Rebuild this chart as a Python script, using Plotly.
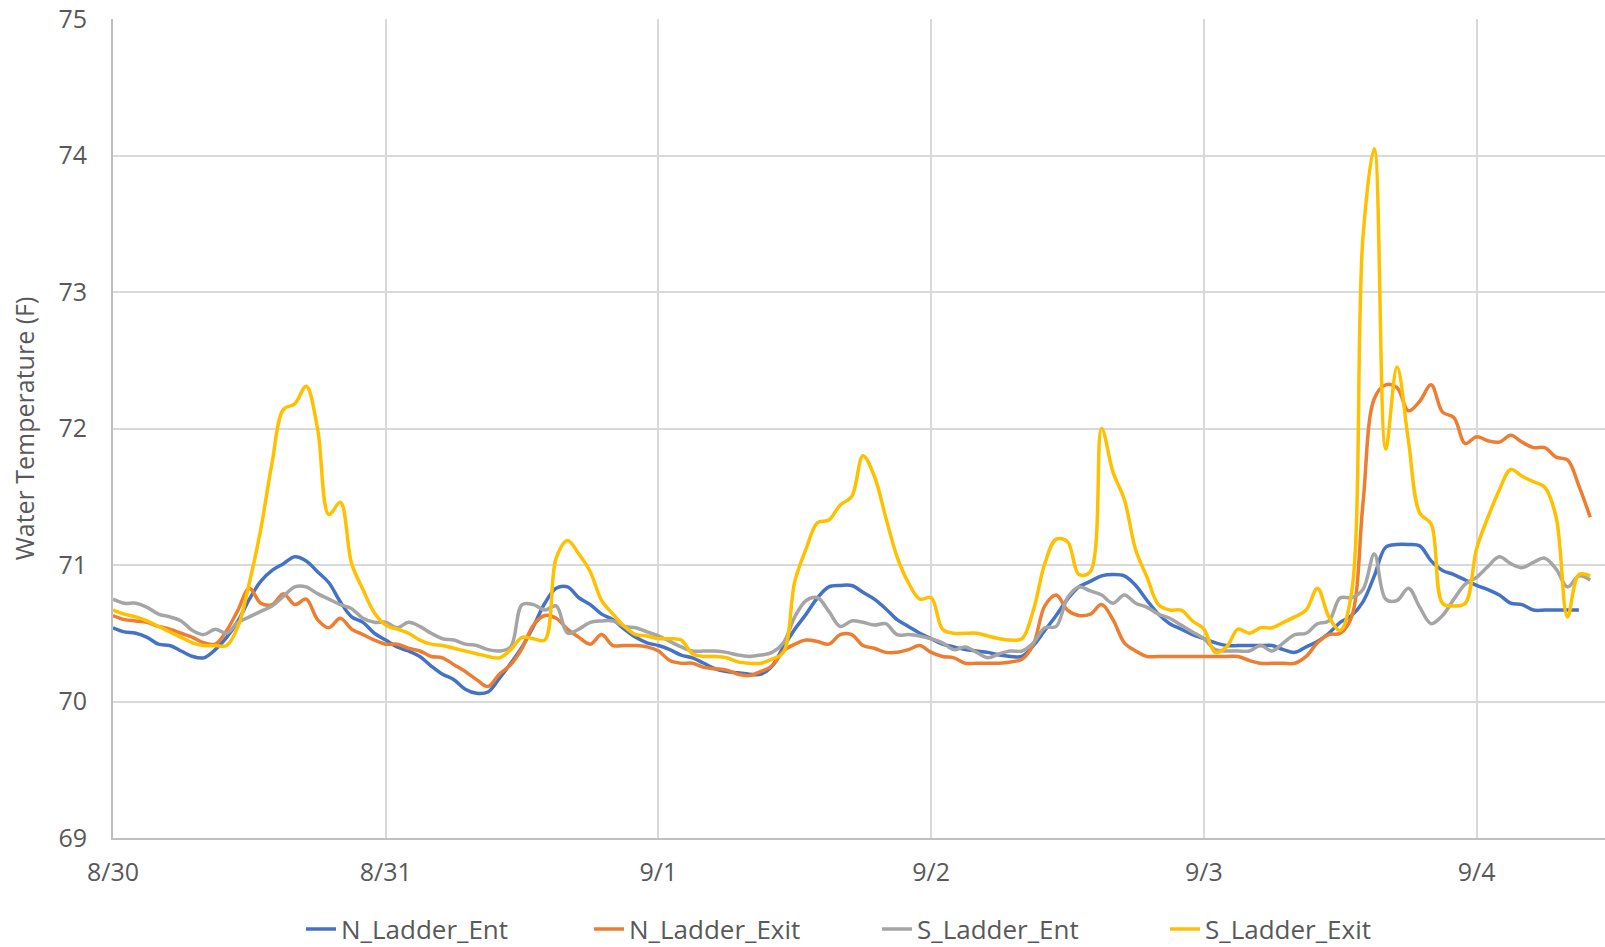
import plotly.graph_objects as go

# hourly readings starting 8/30 00:00
hours = list(range(131))
day_ticks = [0, 24, 48, 72, 96, 120]
day_labels = ["8/30", "8/31", "9/1", "9/2", "9/3", "9/4"]

n_ladder_ent = [
    70.54, 70.51, 70.50, 70.47, 70.42, 70.41, 70.37, 70.33, 70.32, 70.38, 70.47, 70.59,
    70.75, 70.88, 70.96, 71.01, 71.06, 71.03, 70.95, 70.87, 70.73, 70.62, 70.58, 70.50,
    70.45, 70.40, 70.37, 70.33, 70.26, 70.20, 70.16, 70.09, 70.06, 70.07, 70.17, 70.28,
    70.40, 70.55, 70.72, 70.83, 70.84, 70.76, 70.71, 70.64, 70.60, 70.53, 70.47, 70.43,
    70.41, 70.38, 70.34, 70.32, 70.28, 70.24, 70.22, 70.21, 70.20, 70.20, 70.26, 70.40,
    70.53, 70.64, 70.76, 70.84, 70.85, 70.85, 70.80, 70.75, 70.68, 70.60, 70.55, 70.50,
    70.46, 70.42, 70.40, 70.38, 70.37, 70.36, 70.34, 70.33, 70.33, 70.41, 70.52, 70.63,
    70.75, 70.84, 70.88, 70.92, 70.93, 70.92, 70.85, 70.74, 70.64, 70.57, 70.53, 70.49,
    70.46, 70.43, 70.41, 70.41, 70.41, 70.41, 70.41, 70.38, 70.36, 70.40, 70.44, 70.50,
    70.58, 70.63, 70.73, 70.92, 71.13, 71.15, 71.15, 71.14, 71.03, 70.96, 70.93, 70.89,
    70.85, 70.82, 70.78, 70.72, 70.71, 70.67, 70.67, 70.67, 70.67, 70.67,
]

n_ladder_exit = [
    70.63, 70.60, 70.59, 70.58, 70.55, 70.53, 70.50, 70.47, 70.43, 70.42, 70.52, 70.67,
    70.83, 70.72, 70.71, 70.79, 70.71, 70.75, 70.60, 70.54, 70.61, 70.53, 70.49, 70.45,
    70.42, 70.42, 70.39, 70.37, 70.33, 70.32, 70.27, 70.22, 70.16, 70.11, 70.20, 70.27,
    70.39, 70.56, 70.63, 70.61, 70.53, 70.47, 70.42, 70.49, 70.41, 70.41, 70.41, 70.40,
    70.37, 70.30, 70.28, 70.28, 70.25, 70.24, 70.23, 70.20, 70.19, 70.22, 70.26, 70.37,
    70.42, 70.45, 70.44, 70.42, 70.49, 70.49, 70.41, 70.39, 70.36, 70.36, 70.38, 70.41,
    70.36, 70.33, 70.32, 70.28, 70.28, 70.28, 70.28, 70.29, 70.31, 70.42, 70.70, 70.78,
    70.67, 70.63, 70.64, 70.71, 70.60, 70.43, 70.37, 70.33, 70.33, 70.33, 70.33, 70.33,
    70.33, 70.33, 70.33, 70.33, 70.30, 70.28, 70.28, 70.28, 70.28, 70.33, 70.43, 70.49,
    70.50, 70.62, 71.45, 72.22, 72.32, 72.30, 72.13, 72.20, 72.32, 72.12, 72.08, 71.89,
    71.94, 71.91, 71.90, 71.95, 71.90, 71.86, 71.86, 71.79, 71.77, 71.58, 71.35,
]

s_ladder_ent = [
    70.75, 70.72, 70.72, 70.69, 70.64, 70.62, 70.59, 70.52, 70.49, 70.53, 70.50, 70.58,
    70.62, 70.66, 70.70, 70.77, 70.84, 70.84, 70.79, 70.75, 70.71, 70.68, 70.61, 70.58,
    70.58, 70.54, 70.58, 70.55, 70.50, 70.46, 70.45, 70.42, 70.41, 70.38, 70.37, 70.40,
    70.71, 70.71, 70.67, 70.70, 70.50, 70.53, 70.58, 70.59, 70.59, 70.55, 70.54, 70.51,
    70.48, 70.44, 70.40, 70.37, 70.37, 70.37, 70.36, 70.34, 70.33, 70.34, 70.36, 70.43,
    70.62, 70.74, 70.76, 70.66, 70.55, 70.59, 70.58, 70.56, 70.57, 70.49, 70.49, 70.48,
    70.46, 70.43, 70.38, 70.40, 70.36, 70.32, 70.35, 70.37, 70.37, 70.43, 70.54, 70.55,
    70.76, 70.84, 70.81, 70.78, 70.72, 70.78, 70.72, 70.69, 70.64, 70.61, 70.56, 70.51,
    70.46, 70.38, 70.37, 70.37, 70.37, 70.41, 70.37, 70.43, 70.49, 70.50, 70.57, 70.59,
    70.76, 70.76, 70.82, 71.08, 70.75, 70.74, 70.83, 70.69, 70.57, 70.63, 70.75, 70.86,
    70.91, 70.99, 71.06, 71.01, 70.98, 71.02, 71.05, 70.97, 70.84, 70.92, 70.89,
]

s_ladder_exit = [
    70.67, 70.64, 70.62, 70.59, 70.55, 70.51, 70.47, 70.43, 70.41, 70.41, 70.41, 70.55,
    70.87, 71.26, 71.75, 72.14, 72.18, 72.31, 72.00, 71.37, 71.46, 71.01, 70.82, 70.65,
    70.56, 70.53, 70.50, 70.45, 70.42, 70.41, 70.39, 70.37, 70.35, 70.33, 70.32, 70.38,
    70.47, 70.46, 70.45, 71.05, 71.18, 71.08, 70.95, 70.74, 70.64, 70.55, 70.49, 70.48,
    70.46, 70.46, 70.45, 70.35, 70.33, 70.33, 70.32, 70.29, 70.28, 70.28, 70.31, 70.36,
    70.88, 71.12, 71.31, 71.33, 71.44, 71.50, 71.80, 71.65, 71.35, 71.06, 70.87, 70.75,
    70.76, 70.53, 70.50, 70.50, 70.50, 70.48, 70.46, 70.45, 70.46, 70.67, 71.01, 71.19,
    71.17, 70.93, 70.95, 72.00, 71.68, 71.48, 71.11, 70.91, 70.71, 70.67, 70.67, 70.59,
    70.53, 70.36, 70.40, 70.53, 70.50, 70.54, 70.54, 70.58, 70.62, 70.67, 70.83, 70.62,
    70.52, 70.80, 73.40, 74.05, 71.85, 72.45, 71.91, 71.38, 71.30, 70.72, 70.70, 70.72,
    71.12, 71.35, 71.55, 71.70, 71.65, 71.61, 71.57, 71.35, 70.62, 70.93, 70.92,
]

series_names = ["N_Ladder_Ent", "N_Ladder_Exit", "S_Ladder_Ent", "S_Ladder_Exit"]
series_values = [n_ladder_ent, n_ladder_exit, s_ladder_ent, s_ladder_exit]
series_colors = ["#4472C4", "#ED7D31", "#A5A5A5", "#FFC000"]

fig = go.Figure()
for name, vals, color in zip(series_names, series_values, series_colors):
    fig.add_trace(go.Scatter(
        x=hours[:len(vals)], y=vals, mode="lines", name=name,
        line=dict(color=color, width=3.5, shape="spline", smoothing=1.0),
    ))

txt = "#595959"
fig.update_layout(
    width=1605, height=947, autosize=False,
    margin=dict(l=113, r=0, t=19, b=109, pad=0),
    paper_bgcolor="white", plot_bgcolor="white",
    font=dict(family="Open Sans, sans-serif", size=25, color=txt),
    showlegend=True,
    legend=dict(
        orientation="h", x=0.126, xanchor="left",
        yref="container", y=0.019, yanchor="middle",
        font=dict(size=26, color=txt), entrywidth=243, entrywidthmode="pixels",
        bgcolor="rgba(0,0,0,0)",
    ),
    xaxis=dict(
        range=[0, 131.3], tickmode="array", tickvals=day_ticks, ticktext=day_labels,
        showgrid=True, gridcolor="#d9d9d9", gridwidth=2,
        showline=True, linecolor="#bfbfbf", linewidth=2, zeroline=False,
        ticks="", ticklabelstandoff=11, tickfont=dict(size=25, color=txt),
        automargin=False,
    ),
    yaxis=dict(
        range=[69, 75], tick0=69, dtick=1,
        showgrid=True, gridcolor="#d9d9d9", gridwidth=2,
        showline=True, linecolor="#bfbfbf", linewidth=2, zeroline=False,
        ticks="", ticklabelstandoff=19, tickfont=dict(size=25, color=txt),
        title=dict(text="Water Temperature (F)", standoff=17, font=dict(size=25, color=txt)),
        automargin=False,
    ),
)

# remove the browser's default 8px body margin so the figure fills the window exactly
fig.write_html(
    "out.html",
    config={"displayModeBar": False},
    post_script="document.body.style.margin='0';",
)
